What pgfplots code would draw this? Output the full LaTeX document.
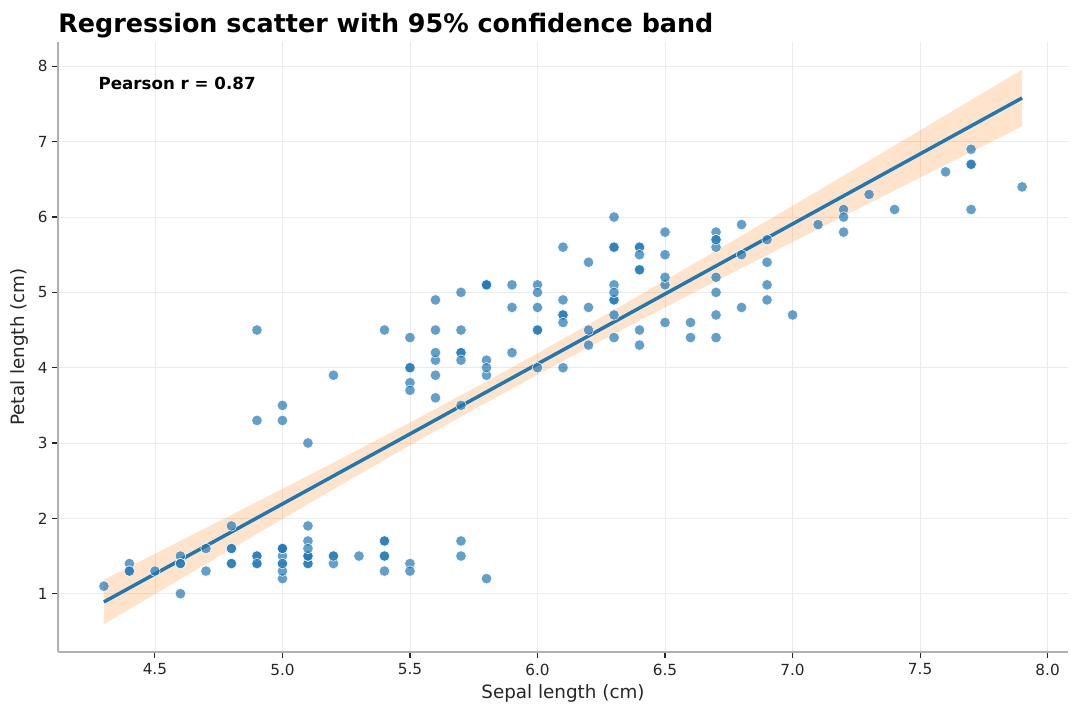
\documentclass[border=0pt]{standalone}
\usepackage{pgfplots}
\pgfplotsset{compat=1.18}
\usepackage{fontspec}
\setmainfont{DejaVu Sans}
\definecolor{cblue}{HTML}{1F77B4}
\definecolor{corange}{HTML}{FF7F0E}
\definecolor{spine}{HTML}{B0B0B0}
\definecolor{gridc}{HTML}{EBEBEB}
\definecolor{txt}{HTML}{262626}
\begin{document}
\begin{tikzpicture}
\begin{axis}[
  set layers=standard,
  scale only axis, width=727.2pt, height=439.2pt,
  at={(41.76pt,46.08pt)}, anchor=south west,
  xmin=4.12, xmax=8.08, ymin=0.226, ymax=8.324,
  axis lines*=left,
  axis line style={spine, line width=0.9pt},
  every tick/.style={txt, line width=0.8pt},
  tick align=outside, major tick length=4pt,
  xtick={4.5,5.0,5.5,6.0,6.5,7.0,7.5,8.0},
  xticklabels={4.5,5.0,5.5,6.0,6.5,7.0,7.5,8.0},
  ytick={1,2,3,4,5,6,7,8},
  grid=major, major grid style={gridc, line width=0.6pt},
  tick label style={font=\fontsize{11}{13}\selectfont, text=txt},
  xticklabel style={yshift=-1pt},
  /pgf/number format/assume math mode=true,
  xlabel={Sepal length (cm)}, ylabel={Petal length (cm)},
  label style={font=\fontsize{13.2}{15}\selectfont, text=txt},
  title={Regression scatter with 95\% confidence band},
  title style={at={(0,1)}, anchor=base west, inner xsep=0pt, yshift=0.5pt, font=\bfseries\fontsize{18.3}{21}\selectfont},
  clip=false,
]
\addplot[on layer=pre main, only marks, mark=*, mark size=3.8pt,
  mark options={fill=cblue, fill opacity=0.7, draw=white, draw opacity=0.9, line width=0.4pt}]
  coordinates {
(5.1,1.4)(4.9,1.4)(4.7,1.3)(4.6,1.5)(5.0,1.4)(5.4,1.7)(4.6,1.4)(5.0,1.5)(4.4,1.4)(4.9,1.5)
(5.4,1.5)(4.8,1.6)(4.8,1.4)(4.3,1.1)(5.8,1.2)(5.7,1.5)(5.4,1.3)(5.1,1.4)(5.7,1.7)(5.1,1.5)
(5.4,1.7)(5.1,1.5)(4.6,1.0)(5.1,1.7)(4.8,1.9)(5.0,1.6)(5.0,1.6)(5.2,1.5)(5.2,1.4)(4.7,1.6)
(4.8,1.6)(5.4,1.5)(5.2,1.5)(5.5,1.4)(4.9,1.5)(5.0,1.2)(5.5,1.3)(4.9,1.4)(4.4,1.3)(5.1,1.5)
(5.0,1.3)(4.5,1.3)(4.4,1.3)(5.0,1.6)(5.1,1.9)(4.8,1.4)(5.1,1.6)(4.6,1.4)(5.3,1.5)(5.0,1.4)
(7.0,4.7)(6.4,4.5)(6.9,4.9)(5.5,4.0)(6.5,4.6)(5.7,4.5)(6.3,4.7)(4.9,3.3)(6.6,4.6)(5.2,3.9)
(5.0,3.5)(5.9,4.2)(6.0,4.0)(6.1,4.7)(5.6,3.6)(6.7,4.4)(5.6,4.5)(5.8,4.1)(6.2,4.5)(5.6,3.9)
(5.9,4.8)(6.1,4.0)(6.3,4.9)(6.1,4.7)(6.4,4.3)(6.6,4.4)(6.8,4.8)(6.7,5.0)(6.0,4.5)(5.7,3.5)
(5.5,3.8)(5.5,3.7)(5.8,3.9)(6.0,5.1)(5.4,4.5)(6.0,4.5)(6.7,4.7)(6.3,4.4)(5.6,4.1)(5.5,4.0)
(5.5,4.4)(6.1,4.6)(5.8,4.0)(5.0,3.3)(5.6,4.2)(5.7,4.2)(5.7,4.2)(6.2,4.3)(5.1,3.0)(5.7,4.1)
(6.3,6.0)(5.8,5.1)(7.1,5.9)(6.3,5.6)(6.5,5.8)(7.6,6.6)(4.9,4.5)(7.3,6.3)(6.7,5.8)(7.2,6.1)
(6.5,5.1)(6.4,5.3)(6.8,5.5)(5.7,5.0)(5.8,5.1)(6.4,5.3)(6.5,5.5)(7.7,6.7)(7.7,6.9)(6.0,5.0)
(6.9,5.7)(5.6,4.9)(7.7,6.7)(6.3,4.9)(6.7,5.7)(7.2,6.0)(6.2,4.8)(6.1,4.9)(6.4,5.6)(7.2,5.8)
(7.4,6.1)(7.9,6.4)(6.4,5.6)(6.3,5.1)(6.1,5.6)(7.7,6.1)(6.3,5.6)(6.4,5.5)(6.0,4.8)(6.9,5.4)
(6.7,5.6)(6.9,5.1)(5.8,5.1)(6.8,5.9)(6.7,5.7)(6.7,5.2)(6.3,5.0)(6.5,5.2)(6.2,5.4)(5.9,5.1)
};
% 95% confidence band: upper edge left to right, then lower edge right to left
\addplot[on layer=main, fill=corange, fill opacity=0.22, draw=none] coordinates {
(4.3,1.187)(4.6,1.701)(4.8,2.045)(5.0,2.391)(5.2,2.740)(5.4,3.094)(5.6,3.452)(5.843,3.898)
(6.0,4.192)(6.2,4.574)(6.4,4.962)(6.6,5.355)(6.8,5.751)(7.0,6.149)(7.2,6.549)(7.4,6.950)
(7.6,7.352)(7.9,7.956)
(7.9,7.206)(7.6,6.695)(7.4,6.354)(7.2,6.011)(7.0,5.668)(6.8,5.323)(6.6,4.976)(6.4,4.625)
(6.2,4.270)(6.0,3.908)(5.843,3.618)(5.6,3.161)(5.4,2.776)(5.2,2.386)(5.0,1.992)(4.8,1.595)
(4.6,1.196)(4.3,0.594)} -- cycle;
\addplot[on layer=main, cblue, line width=2.5pt] coordinates {(4.3,0.8906)(7.9,7.5812)};
\node[anchor=north west, inner sep=0pt, font=\bfseries\fontsize{12}{14}\selectfont]
  at (rel axis cs:0.04,0.943) {Pearson r = 0.87};
\end{axis}
\pgfresetboundingbox
\path[use as bounding box] (0,0) rectangle (777.6pt,515.52pt);
\end{tikzpicture}
\end{document}
